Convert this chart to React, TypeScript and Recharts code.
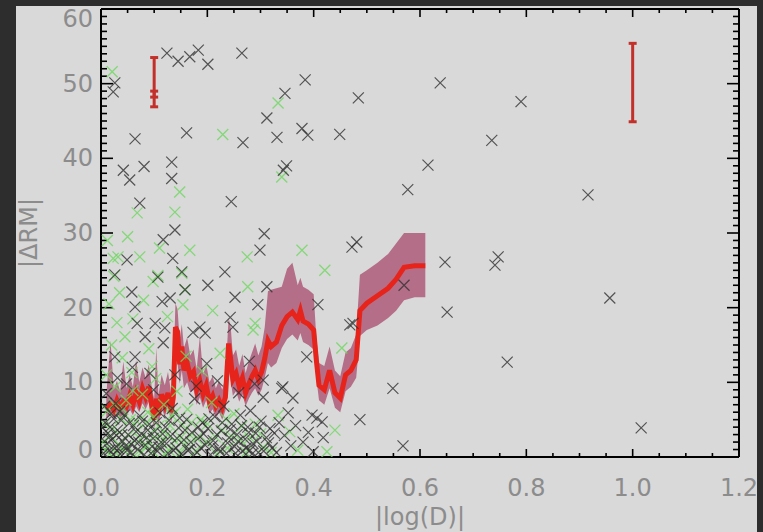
import { ComposedChart, Scatter, Line, Area, XAxis, YAxis, ErrorBar, ReferenceLine } from 'recharts';

// scattered |dRM| values, dark crosses
const blackPts: [number, number][] = [
  [0.124, 54.1], [0.145, 53.0], [0.167, 53.6], [0.183, 54.5], [0.201, 52.6], [0.265, 54.1],
  [0.026, 50.1], [0.023, 48.9], [0.384, 50.5], [0.346, 48.7], [0.312, 45.4], [0.484, 48.1],
  [0.638, 50.1], [0.064, 42.6], [0.161, 43.4], [0.267, 42.1], [0.331, 42.8], [0.378, 44.0],
  [0.389, 43.1], [0.449, 43.2], [0.343, 38.4], [0.349, 39.0], [0.133, 39.5], [0.133, 37.3],
  [0.042, 38.4], [0.054, 37.1], [0.081, 38.9], [0.245, 34.2], [0.615, 39.1], [0.735, 42.4],
  [0.79, 47.6], [0.577, 35.8], [0.916, 35.1], [0.073, 34.0], [0.139, 30.4], [0.117, 29.1],
  [0.049, 26.4], [0.135, 26.6], [0.026, 24.4], [0.107, 24.1], [0.152, 24.8], [0.233, 24.8],
  [0.299, 27.7], [0.307, 29.9], [0.201, 23.0], [0.058, 22.1], [0.252, 21.4], [0.115, 20.8],
  [0.13, 21.3], [0.158, 22.4], [0.064, 20.1], [0.068, 17.9], [0.102, 17.9], [0.083, 16.1],
  [0.12, 17.3], [0.173, 16.7], [0.186, 17.4], [0.196, 16.6], [0.243, 18.7], [0.248, 17.4],
  [0.064, 13.4], [0.026, 13.4], [0.117, 15.3], [0.34, 9.2], [0.305, 8.0], [0.361, 7.9],
  [0.352, 5.9], [0.397, 5.6], [0.406, 5.2], [0.416, 4.7], [0.418, 2.6], [0.487, 5.0],
  [0.322, 1.2], [0.28, 0.9], [0.399, 0.7], [0.387, 13.4], [0.468, 17.7], [0.408, 20.4],
  [0.647, 26.1], [0.747, 26.8], [0.741, 25.7], [0.957, 21.3], [0.651, 19.4], [0.764, 12.7],
  [0.549, 9.2], [0.568, 1.5], [1.016, 3.9], [0.57, 23.0], [0.312, 22.8], [0.295, 20.4],
  [0.472, 28.1], [0.481, 28.8], [0.474, 17.9], [0.342, 9.4], [0.305, 10.3],
  [0.005, 0.5], [0.011, 1.8], [0.013, 3.2], [0.008, 4.6], [0.016, 0.9], [0.021, 2.4],
  [0.019, 5.8], [0.026, 1.2], [0.031, 3.6], [0.028, 7.2], [0.036, 0.4], [0.041, 2.1],
  [0.038, 4.9], [0.046, 1.5], [0.051, 3.0], [0.048, 9.8], [0.056, 0.6], [0.061, 4.2],
  [0.063, 2.2], [0.069, 1.0], [0.073, 5.5], [0.076, 3.1], [0.081, 0.3], [0.086, 2.6],
  [0.091, 4.4], [0.092, 11.2], [0.096, 1.4], [0.101, 3.4], [0.106, 0.8], [0.111, 5.9],
  [0.113, 2.0], [0.121, 4.0], [0.126, 0.5], [0.131, 2.8], [0.134, 6.5], [0.141, 1.2],
  [0.146, 3.9], [0.151, 0.4], [0.156, 2.3], [0.161, 5.0], [0.166, 1.0], [0.171, 3.3],
  [0.176, 7.8], [0.181, 0.6], [0.186, 2.7], [0.191, 4.6], [0.196, 1.6], [0.201, 3.8],
  [0.206, 0.3], [0.211, 2.2], [0.214, 5.4], [0.221, 1.1], [0.226, 3.5], [0.231, 6.8],
  [0.236, 0.5], [0.241, 2.6], [0.246, 4.4], [0.251, 1.4], [0.256, 3.0], [0.262, 5.6],
  [0.266, 0.8], [0.271, 2.4], [0.276, 4.0], [0.281, 6.2], [0.286, 1.8], [0.291, 3.2],
  [0.296, 0.6], [0.301, 4.8], [0.311, 2.6], [0.318, 3.8], [0.335, 4.6], [0.345, 2.9],
  [0.01, 8.5], [0.031, 10.6], [0.059, 12.0], [0.099, 9.0], [0.139, 11.0], [0.179, 9.5],
  [0.199, 12.5], [0.219, 10.2], [0.259, 8.6], [0.279, 12.8], [0.289, 9.8],
  [0.003, 3.9], [0.007, 6.8], [0.014, 2.6], [0.017, 4.0], [0.023, 0.3], [0.024, 5.1],
  [0.029, 2.9], [0.033, 1.1], [0.035, 6.1], [0.039, 3.0], [0.044, 5.6], [0.049, 0.9],
  [0.053, 4.5], [0.057, 1.7], [0.066, 3.4], [0.071, 2.0], [0.078, 4.8], [0.083, 1.6],
  [0.088, 3.6], [0.094, 0.5], [0.098, 2.5], [0.104, 4.6], [0.109, 1.3], [0.116, 3.1],
  [0.123, 1.8], [0.128, 4.9], [0.136, 0.9], [0.143, 2.5], [0.148, 5.2], [0.158, 3.6],
  [0.163, 0.9], [0.169, 2.0], [0.183, 4.0], [0.188, 1.2], [0.193, 3.1], [0.203, 5.1],
  [0.209, 1.5], [0.218, 3.0], [0.224, 0.7], [0.228, 4.6], [0.238, 1.9], [0.243, 3.7],
  [0.253, 0.5], [0.258, 2.1], [0.264, 4.2], [0.273, 1.2], [0.278, 3.3], [0.284, 0.4],
  [0.293, 2.1], [0.298, 4.0], [0.306, 0.8], [0.315, 1.9], [0.326, 3.2], [0.33, 0.6],
  [0.357, 1.5], [0.366, 4.2], [0.38, 2.0], [0.39, 3.3],
];

// second sample, green crosses
const greenPts: [number, number][] = [
  [0.021, 51.6], [0.333, 47.4], [0.229, 43.2], [0.148, 35.5], [0.34, 37.5], [0.068, 32.7],
  [0.139, 32.8], [0.032, 26.8], [0.073, 26.8], [0.167, 27.7], [0.023, 26.6], [0.024, 24.2],
  [0.107, 24.3], [0.152, 24.6], [0.275, 26.8], [0.276, 22.8], [0.158, 22.4], [0.098, 23.5],
  [0.154, 20.4], [0.045, 16.1], [0.286, 17.0], [0.04, 13.3], [0.096, 12.1], [0.224, 13.9],
  [0.378, 27.7], [0.421, 25.0], [0.29, 17.9], [0.01, 11.0], [0.02, 15.0], [0.19, 11.5],
  [0.06, 18.5], [0.21, 19.6], [0.453, 14.6],
  [0.015, 20.5], [0.035, 22.0], [0.05, 29.5], [0.08, 21.0], [0.11, 28.0], [0.125, 18.8],
  [0.03, 18.0], [0.09, 14.5], [0.16, 13.5], [0.012, 29.0],
  [0.004, 2.0], [0.012, 6.2], [0.016, 0.4], [0.022, 3.8], [0.027, 9.4], [0.033, 1.7],
  [0.037, 5.2], [0.043, 0.9], [0.047, 7.6], [0.052, 2.9], [0.058, 11.3], [0.063, 0.2],
  [0.067, 4.8], [0.074, 2.4], [0.078, 8.4], [0.083, 1.3], [0.088, 6.0], [0.094, 3.2],
  [0.098, 0.7], [0.103, 10.5], [0.108, 4.1], [0.114, 1.9], [0.118, 7.0], [0.124, 3.0],
  [0.128, 0.9], [0.133, 5.6], [0.138, 2.2], [0.143, 8.8], [0.148, 0.5], [0.153, 4.3],
  [0.158, 1.6], [0.163, 6.4], [0.168, 2.9], [0.178, 0.8], [0.188, 5.0], [0.198, 2.0],
  [0.208, 7.3], [0.218, 0.4], [0.228, 3.6], [0.238, 1.2], [0.25, 5.8], [0.262, 2.3],
  [0.272, 0.6], [0.29, 4.4], [0.305, 1.3], [0.333, 5.6], [0.355, 3.4], [0.37, 0.9],
  [0.425, 0.7], [0.44, 3.6],
  [0.006, 4.4], [0.009, 0.9], [0.018, 2.8], [0.025, 7.0], [0.029, 0.5], [0.035, 3.3],
  [0.041, 6.4], [0.05, 1.4], [0.055, 5.0], [0.06, 8.9], [0.07, 3.6], [0.076, 0.6],
  [0.085, 4.6], [0.09, 2.1], [0.1, 5.4], [0.11, 2.9], [0.12, 0.4], [0.13, 4.2],
  [0.14, 6.0], [0.15, 2.6], [0.17, 4.6], [0.18, 2.5], [0.2, 4.4], [0.215, 2.7],
  [0.235, 5.1], [0.245, 2.8], [0.265, 4.1], [0.28, 2.6], [0.3, 3.1], [0.32, 0.6],
];

// running median and its spread
const lineX = [
  0.010, 0.018, 0.024, 0.030, 0.036, 0.042, 0.048, 0.054, 0.060, 0.066,
  0.072, 0.078, 0.084, 0.090, 0.096, 0.100, 0.104, 0.108, 0.114, 0.120,
  0.126, 0.132, 0.136, 0.140, 0.144, 0.148, 0.152, 0.156, 0.162, 0.168,
  0.174, 0.180, 0.186, 0.192, 0.198, 0.204, 0.210, 0.216, 0.222, 0.228,
  0.234, 0.240, 0.244, 0.248, 0.254, 0.260, 0.266, 0.272, 0.278, 0.284,
  0.290, 0.296, 0.302, 0.308, 0.314, 0.320, 0.330, 0.340, 0.350, 0.360,
  0.370, 0.375, 0.380, 0.390, 0.400, 0.405, 0.410, 0.420, 0.430, 0.440,
  0.450, 0.460, 0.470, 0.480, 0.487, 0.500, 0.520, 0.540, 0.555, 0.570,
  0.590, 0.610,
];
const lineY = [
  6.4, 7.0, 6.3, 7.6, 6.6, 7.4, 6.8, 8.2, 7.0, 8.6,
  7.4, 9.2, 8.0, 9.4, 6.6, 5.0, 7.8, 5.6, 8.4, 7.0,
  8.6, 6.0, 8.0, 17.4, 16.8, 12.4, 14.8, 11.6, 12.6, 10.8,
  11.4, 9.0, 10.2, 8.4, 9.6, 7.4, 8.2, 6.8, 7.6, 6.6,
  8.0, 15.2, 13.0, 10.4, 11.2, 9.4, 10.6, 8.6, 9.8, 10.8,
  11.6, 10.4, 11.4, 13.2, 15.6, 14.8, 15.4, 17.6, 18.8, 19.4,
  18.4, 19.6, 18.2, 17.8, 17.0, 13.0, 9.6, 9.0, 11.6, 8.6,
  7.9, 11.0, 11.6, 13.0, 19.6, 20.6, 21.6, 22.6, 23.8, 25.4,
  25.6, 25.6,
];
const bandLo = [
  5.2, 5.6, 5.0, 6.0, 5.2, 5.8, 5.4, 6.4, 5.6, 6.8,
  6.0, 7.2, 6.4, 7.4, 5.2, 3.8, 6.0, 4.2, 6.6, 5.4,
  6.8, 4.6, 6.2, 13.0, 12.6, 9.8, 11.6, 9.2, 10.0, 8.6,
  9.0, 7.0, 8.0, 6.6, 7.6, 5.8, 6.4, 5.2, 6.0, 5.0,
  6.2, 11.6, 10.2, 8.2, 8.8, 7.4, 8.4, 6.8, 7.8, 8.6,
  9.2, 8.2, 9.0, 10.6, 12.6, 12.0, 12.6, 14.6, 15.8, 16.4,
  15.6, 16.6, 15.4, 15.0, 14.4, 10.6, 7.6, 7.0, 9.2, 6.6,
  6.0, 8.8, 9.4, 10.6, 16.2, 17.0, 17.6, 18.6, 19.6, 21.0,
  21.4, 21.4,
];
const bandHi = [
  8.4, 15.6, 9.0, 10.2, 8.8, 12.8, 9.2, 11.0, 9.4, 13.0,
  10.0, 12.0, 10.6, 12.4, 9.0, 7.8, 14.6, 8.2, 11.0, 9.6,
  11.4, 8.6, 10.8, 20.6, 19.8, 15.6, 17.8, 14.6, 16.0, 13.6,
  14.4, 11.8, 16.2, 11.0, 12.4, 10.0, 10.8, 9.2, 10.2, 9.0,
  10.6, 18.6, 17.4, 13.6, 14.4, 12.2, 13.8, 11.2, 12.8, 14.0,
  15.2, 13.6, 14.8, 17.4, 22.2, 22.4, 22.6, 22.8, 25.2, 26.0,
  23.0, 24.0, 22.8, 22.4, 21.8, 16.0, 12.6, 12.2, 14.8, 11.6,
  10.8, 14.0, 14.6, 16.4, 24.4, 25.0, 26.0, 27.2, 28.6, 30.0,
  30.0, 30.0,
];

// typical error bars
const errX = [0.1, 0.1, 1.0];
const errY = [50.3, 48.6, 50.2];
const errDown = [3.4, 0.4, 5.3];
const errUp = [3.2, 0.4, 5.2];

const xMajor = [0, 0.2, 0.4, 0.6, 0.8, 1.0, 1.2];
const xTickLabels = ['0.0', '0.2', '0.4', '0.6', '0.8', '1.0', '1.2'];
const yMajor = [0, 10, 20, 30, 40, 50, 60];
const yTickLabels = ['0', '10', '20', '30', '40', '50', '60'];

const xTicks = Array.from({ length: 25 }, (_, i) => Math.round(i * 5) / 100);
const yTicks = Array.from({ length: 61 }, (_, i) => i);

const blackData = blackPts.map(([x, y]) => ({ x, y }));
const greenData = greenPts.map(([x, y]) => ({ x, y }));
const lineData = lineX.map((x, i) => ({ x, y: lineY[i], band: [bandLo[i], bandHi[i]] }));
const errData = errX.map((x, i) => ({ x, y: errY[i], err: [errDown[i], errUp[i]] }));

const FONT = '"DejaVu Sans", sans-serif';
const LABEL = '#8c8c8c';

const W = 741;
const H = 526;
const M = { top: 3, right: 18, bottom: 15, left: 15 };
const X_MAX = 1.2;
const Y_MAX = 60;
// inward tick lengths in data units (plot box is ~638 x 448 px)
const PX_X = X_MAX / 638;
const PX_Y = Y_MAX / 448;

const cross = (color: string, w: number, r: number) => (p: any) => {
  const { cx, cy } = p;
  if (cx == null || cy == null) return <g />;
  return (
    <path
      d={`M${cx - r},${cy - r}L${cx + r},${cy + r}M${cx - r},${cy + r}L${cx + r},${cy - r}`}
      stroke={color}
      strokeWidth={w}
      fill="none"
    />
  );
};

const majorIndex = (list: number[], v: number) => list.findIndex((m) => Math.abs(m - v) < 1e-6);

const BottomLabel = (p: any) => {
  const { x, y, payload } = p;
  const idx = majorIndex(xMajor, payload.value);
  if (idx < 0) return <g />;
  return (
    <text x={x} y={y + 31} textAnchor="middle" dominantBaseline="central" fill={LABEL} fontSize={24} fontFamily={FONT}>
      {xTickLabels[idx]}
    </text>
  );
};

const LeftLabel = (p: any) => {
  const { x, y, payload } = p;
  const idx = majorIndex(yMajor, payload.value);
  if (idx < 0) return <g />;
  const dy = payload.value === 60 ? 10 : payload.value === 0 ? -7 : 0;
  return (
    <text x={x - 8} y={y + dy} textAnchor="end" dominantBaseline="central" fill={LABEL} fontSize={24} fontFamily={FONT}>
      {yTickLabels[idx]}
    </text>
  );
};

const tickStyle = { stroke: '#000', strokeWidth: 1.6 };

export default function App() {
  const xTickLines = xTicks.flatMap((v) => {
    const len = (majorIndex(xMajor, v) >= 0 ? 8 : 4) * PX_Y;
    return [
      <ReferenceLine key={`b${v}`} segment={[{ x: v, y: 0 }, { x: v, y: len }]} {...tickStyle} />,
      <ReferenceLine key={`t${v}`} segment={[{ x: v, y: Y_MAX }, { x: v, y: Y_MAX - len }]} {...tickStyle} />,
    ];
  });
  const yTickLines = yTicks.flatMap((v) => {
    const len = (majorIndex(yMajor, v) >= 0 ? 12 : 6) * PX_X;
    return [
      <ReferenceLine key={`l${v}`} segment={[{ x: 0, y: v }, { x: len, y: v }]} {...tickStyle} />,
      <ReferenceLine key={`r${v}`} segment={[{ x: X_MAX, y: v }, { x: X_MAX - len, y: v }]} {...tickStyle} />,
    ];
  });

  return (
    <div style={{ position: 'absolute', left: 0, top: 0, width: 763, height: 532, background: '#2d2d2d', overflow: 'hidden' }}>
      <div style={{ position: 'absolute', left: 16, top: 6, width: W, height: H, background: '#d9d9d9', overflow: 'hidden' }}>
        <ComposedChart width={W} height={H} margin={M}>
          <XAxis
            dataKey="x"
            type="number"
            domain={[0, X_MAX]}
            ticks={xTicks}
            interval={0}
            height={60}
            tickSize={0}
            tickMargin={0}
            tickLine={false}
            tick={BottomLabel}
            axisLine={{ stroke: '#000', strokeWidth: 2 }}
            allowDataOverflow
          />
          <YAxis
            dataKey="y"
            type="number"
            domain={[0, Y_MAX]}
            ticks={yTicks}
            interval={0}
            width={70}
            tickSize={0}
            tickMargin={0}
            tickLine={false}
            tick={LeftLabel}
            axisLine={{ stroke: '#000', strokeWidth: 2 }}
            allowDataOverflow
          />
          <Scatter data={greenData} dataKey="y" shape={cross('rgba(110,215,95,0.8)', 1.3, 5.5)} isAnimationActive={false} />
          <Scatter data={blackData} dataKey="y" shape={cross('rgba(50,50,50,0.8)', 1.2, 5.5)} isAnimationActive={false} />
          <Area
            data={lineData}
            dataKey="band"
            type="linear"
            stroke="none"
            fill="#a64468"
            fillOpacity={0.72}
            isAnimationActive={false}
          />
          <Line
            data={lineData}
            dataKey="y"
            type="linear"
            stroke="#e6241b"
            strokeWidth={5}
            dot={false}
            activeDot={false}
            isAnimationActive={false}
          />
          <Scatter data={errData} dataKey="y" shape={() => <g />} isAnimationActive={false}>
            <ErrorBar dataKey="err" direction="y" width={4} stroke="#c3302a" strokeWidth={3} />
          </Scatter>
          {/* mirrored frame on top and right */}
          <ReferenceLine y={Y_MAX} stroke="#000" strokeWidth={2} />
          <ReferenceLine x={X_MAX} stroke="#000" strokeWidth={2} />
          {xTickLines}
          {yTickLines}
        </ComposedChart>
        <div
          style={{
            position: 'absolute', left: 304, top: 497, width: 200, textAlign: 'center',
            fontFamily: FONT, fontSize: 24, lineHeight: '28px', color: LABEL,
          }}
        >
          |log(D)|
        </div>
        <div
          style={{
            position: 'absolute', left: -47, top: 213, width: 120, height: 28, textAlign: 'center',
            fontFamily: FONT, fontSize: 24, lineHeight: '28px', color: LABEL, transform: 'rotate(-90deg)',
          }}
        >
          |ΔRM|
        </div>
      </div>
    </div>
  );
}
